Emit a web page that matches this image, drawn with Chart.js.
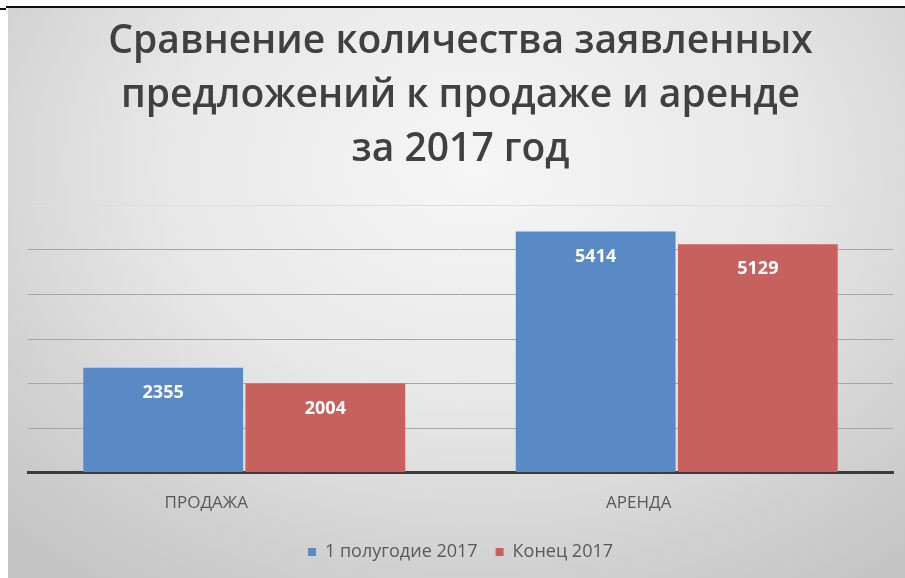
<!DOCTYPE html>
<html>
<head>
<meta charset="utf-8">
<script src="https://cdn.jsdelivr.net/npm/chart.js@4.4.1/dist/chart.umd.min.js"></script>
<style>
  html, body { margin: 0; padding: 0; background: #fff; }
  #frame {
    position: absolute; left: 6px; top: 6px; width: 899px; height: 572px;
    border-top: 2px solid #111;
  }
  #stub { position: absolute; left: 0; top: 8px; width: 6px; height: 2px; background: #111; }
  #wrap {
    position: absolute; left: 8px; top: 8px; width: 897px; height: 570px;
    background: radial-gradient(ellipse 75% 90% at 52% 28%, #f6f6f6 0%, #e8e8e8 45%, #d0d0d0 80%, #c4c4c4 100%);
  }
</style>
</head>
<body>
<div id="frame"></div>
<div id="stub"></div>
<div id="wrap"><canvas id="chart" width="897" height="570"></canvas></div>
<script>
// offers for sale vs. rent, 2017
const categories = ['ПРОДАЖА', 'АРЕНДА'];
const firstHalf = [2355, 5414];
const yearEnd = [2004, 5129];
const seriesNames = ['1 полугодие 2017', 'Конец 2017'];
const titleLines = ['Сравнение количества заявленных', 'предложений к продаже и аренде', 'за 2017 год'];

// white numbers near the top of each bar
const valueLabels = {
    id: 'valueLabels',
    afterDatasetsDraw(chart) {
        const ctx = chart.ctx;
        ctx.save();
        ctx.fillStyle = '#ffffff';
        ctx.font = 'bold 18px "Open Sans"';
        ctx.textAlign = 'center';
        ctx.textBaseline = 'middle';
        chart.data.datasets.forEach((ds, i) => {
            chart.getDatasetMeta(i).data.forEach((bar, j) => {
                ctx.fillText(ds.data[j], bar.x, bar.y + 25);
            });
        });
        ctx.restore();
    }
};

const ctx = document.getElementById('chart').getContext('2d');
const chart = new Chart(ctx, {
    type: 'bar',
    data: {
        labels: categories,
        datasets: [{
            label: seriesNames[0],
            data: firstHalf,
            backgroundColor: '#5a8ac6',
            categoryPercentage: 0.75,
            barPercentage: 0.985
        }, {
            label: seriesNames[1],
            data: yearEnd,
            backgroundColor: '#c6615e',
            categoryPercentage: 0.75,
            barPercentage: 0.985
        }]
    },
    options: {
        responsive: false,
        animation: false,
        layout: { padding: { left: 20, right: 12, top: 4, bottom: 7 } },
        plugins: {
            title: {
                display: true,
                text: titleLines,
                color: '#404040',
                font: { family: '"Open Sans"', size: 39, weight: '600', lineHeight: 1.38 },
                padding: { top: 3, bottom: 29 }
            },
            legend: {
                position: 'bottom',
                labels: {
                    color: '#595959',
                    font: { family: '"Open Sans"', size: 18 },
                    boxWidth: 8,
                    boxHeight: 8,
                    padding: 18
                }
            },
            tooltip: { enabled: false }
        },
        scales: {
            x: {
                grid: { display: false },
                border: { color: '#3c3c3c', width: 3 },
                ticks: {
                    color: '#595959',
                    font: { family: '"Open Sans"', size: 17 },
                    padding: 12,
                    labelOffset: -38
                }
            },
            y: {
                min: 0,
                max: 6000,
                ticks: { display: false, stepSize: 1000 },
                border: { display: false },
                grid: {
                    drawTicks: false,
                    color: c => c.tick.value === 6000 ? '#dedede' : '#a6a6a6'
                }
            }
        }
    },
    plugins: [valueLabels]
});
</script>
</body>
</html>
